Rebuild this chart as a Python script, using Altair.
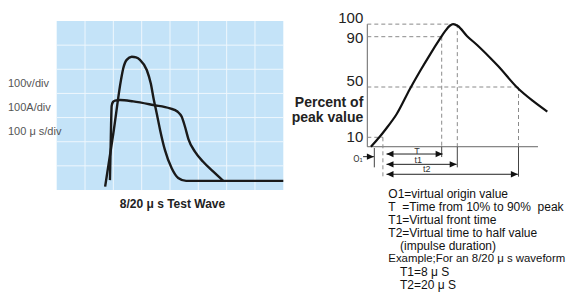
import altair as alt
import pandas as pd

NB = "\u00a0"

# ---------------- left panel: oscilloscope (units = grid divisions) ----------------
grid_cols = [1, 2, 3, 4, 5, 6, 7]
grid_rows = [1, 2, 3, 4, 5, 6]
volt_x = [1.71, 2.00, 2.27, 2.35, 2.47, 2.65, 2.80, 2.94, 3.18, 3.32, 3.43, 3.53, 3.65, 3.82, 4.06, 4.29, 4.57, 8.00]
volt_y = [0.14, 2.35, 4.56, 5.04, 5.39, 5.52, 5.49, 5.39, 4.97, 4.42, 3.73, 3.18, 2.49, 1.66, 0.90, 0.50, 0.38, 0.38]
curr_x = [1.88, 1.92, 1.94, 1.99, 2.06, 2.24, 2.70, 3.41, 4.00, 4.26, 4.41, 4.53, 4.65, 4.88, 5.17, 5.53, 5.88]
curr_y = [0.41, 2.69, 3.48, 3.65, 3.70, 3.73, 3.67, 3.52, 3.38, 3.25, 3.04, 2.62, 2.11, 1.59, 1.17, 0.76, 0.38]
scope_labels = ["100v/div", "100A/div", "100 μ s/div"]
scope_title = "8/20 μ s Test Wave"

# ---------------- right panel: waveform (time units, percent of peak) ----------------
wave_t = [0.6, 2.0, 3.0, 4.9, 7.1, 8.8, 10.5, 12.1, 13.0, 13.8, 14.3, 15.1, 16.6, 18.3, 20.5, 21.8, 25.1, 27.6, 30.0]
wave_p = [2.5, 10.0, 16.0, 28.5, 48.4, 62.7, 76.2, 88.2, 94.6, 98.9, 100, 98.5, 90.6, 83.4, 73.1, 66.7, 49.0, 38.9, 30.4]
base_p = 2.5
axis_end_t = 28.45
levels = [100, 90, 50, 10]
level_t = [15.0, 12.4, 25.2, 2.6]
level_label_p = [105, 89, 55, 10]
dash_bottom = [base_p, base_p, base_p, -21.3]
tick_t = [1.17, 12.4, 15.0, 25.2]
tick_top = [1.5, base_p, base_p, base_p]
tick_bottom = [-13.9, -5.7, -13.9, -21.3]
arrow_start = [-0.7, 3.2, 3.2, 3.2]
arrow_end = [1.1, 12.55, 14.9, 25.1]
arrow_p = [-5.4, -3.3, -11.5, -19.4]
arrow_double = [False, True, True, True]
arrow_names = ["T", "t1", "t2"]
arrow_label_t = [8.3, 8.5, 9.9]
arrow_label_p = [-0.9, -8.1, -15.5]
o1_label = "O₁"
notes = [
    "O1=virtual origin value",
    "T" + NB * 2 + "=Time from 10% to 90%" + NB * 2 + "peak",
    "T1=Virtual front time",
    "T2=Virtual time to half value",
    "(impulse duration)",
    "Example;For an 8/20 μ s waveform",
    "T1=8 μ S",
    "T2=20 μ S",
]
notes_indent = [0, 0, 0, 0, 1, 0, 1, 1]
long_line = 5  # index of the widest note line

FONT = "Liberation Sans"


def LX():
    return alt.Scale(domain=[0, 8], range=[48.7, 275.3])


def LY():
    return alt.Scale(domain=[0, 7], range=[182, 13])


def RX():
    return alt.Scale(domain=[0, 30], range=[359.3, 539.3])


def RY():
    return alt.Scale(domain=[0, 100], range=[141.875, 16.125])


# ---- left layers
bg = alt.Chart(pd.DataFrame({"x0": [0], "x1": [8], "y0": [0], "y1": [7]})).mark_rect(
    color="#c4e3f8"
).encode(
    x=alt.X("x0:Q", scale=LX(), axis=None), x2="x1:Q",
    y=alt.Y("y0:Q", scale=LY(), axis=None), y2="y1:Q",
)
vgrid = alt.Chart(pd.DataFrame({"g": grid_cols, "a": [0] * 7, "b": [7] * 7})).mark_rule(
    color="#eef7fd", strokeWidth=1
).encode(
    x=alt.X("g:Q", scale=LX(), axis=None),
    y=alt.Y("a:Q", scale=LY(), axis=None), y2="b:Q",
)
hgrid = alt.Chart(pd.DataFrame({"g": grid_rows, "a": [0] * 6, "b": [8] * 6})).mark_rule(
    color="#eef7fd", strokeWidth=1
).encode(
    y=alt.Y("g:Q", scale=LY(), axis=None),
    x=alt.X("a:Q", scale=LX(), axis=None), x2="b:Q",
)
volt = alt.Chart(pd.DataFrame({"x": volt_x, "y": volt_y})).mark_line(
    color="#1a1a1a", strokeWidth=2.4, interpolate="monotone"
).encode(
    x=alt.X("x:Q", scale=LX(), axis=None),
    y=alt.Y("y:Q", scale=LY(), axis=None),
)
curr = alt.Chart(pd.DataFrame({"x": curr_x, "y": curr_y})).mark_line(
    color="#1a1a1a", strokeWidth=2.4, interpolate="monotone"
).encode(
    x=alt.X("x:Q", scale=LX(), axis=None),
    y=alt.Y("y:Q", scale=LY(), axis=None),
)
left = alt.layer(bg, vgrid, hgrid, volt, curr)

scope_text = alt.Chart(pd.DataFrame({"t": scope_labels, "i": [0, 1, 2]})).mark_text(
    align="left", baseline="middle", fontSize=11, font=FONT, color="#555555"
).encode(
    x=alt.value(0),
    y=alt.Y("i:Q", scale=alt.Scale(domain=[0, 2], range=[76, 124]), axis=None),
    text="t:N",
)
title_text = alt.Chart(pd.DataFrame({"t": [scope_title]})).mark_text(
    align="center", baseline="middle", fontSize=12, font=FONT, fontWeight="bold", color="#222222"
).encode(x=alt.value(164.5), y=alt.value(196), text="t:N")

# ---- right layers
curve = alt.Chart(pd.DataFrame({"t": wave_t, "p": wave_p})).mark_line(
    color="#111111", strokeWidth=2.2, interpolate="monotone"
).encode(
    x=alt.X("t:Q", scale=RX(), axis=None),
    y=alt.Y("p:Q", scale=RY(), axis=None),
)
axes_df = pd.DataFrame({"x0": [0, 0], "x1": [0, axis_end_t], "y0": [base_p, base_p], "y1": [100, base_p]})
axes = alt.Chart(axes_df).mark_rule(color="#666666", strokeWidth=1).encode(
    x=alt.X("x0:Q", scale=RX(), axis=None), x2="x1:Q",
    y=alt.Y("y0:Q", scale=RY(), axis=None), y2="y1:Q",
)
lev_df = pd.DataFrame({"lvl": levels, "lt": level_t, "zero": [0] * 4, "db": dash_bottom,
                       "lp": level_label_p, "lab": [str(v) for v in levels]})
hdash = alt.Chart(lev_df).mark_rule(color="#8a8a8a", strokeWidth=1, strokeDash=[4, 3]).encode(
    x=alt.X("zero:Q", scale=RX(), axis=None), x2="lt:Q",
    y=alt.Y("lvl:Q", scale=RY(), axis=None),
)
vdash = alt.Chart(lev_df).mark_rule(color="#8a8a8a", strokeWidth=1, strokeDash=[4, 3]).encode(
    x=alt.X("lt:Q", scale=RX(), axis=None),
    y=alt.Y("lvl:Q", scale=RY(), axis=None), y2="db:Q",
)
level_labels = alt.Chart(lev_df).mark_text(
    align="right", baseline="middle", fontSize=15, font=FONT, color="#222222"
).encode(
    x=alt.value(355.3),
    y=alt.Y("lp:Q", scale=RY(), axis=None),
    text="lab:N",
)
ticks = alt.Chart(pd.DataFrame({"t": tick_t, "a": tick_top, "b": tick_bottom})).mark_rule(
    color="#444444", strokeWidth=1
).encode(
    x=alt.X("t:Q", scale=RX(), axis=None),
    y=alt.Y("a:Q", scale=RY(), axis=None), y2="b:Q",
)
arr_df = pd.DataFrame({"s": arrow_start, "e": arrow_end, "p": arrow_p, "d": arrow_double})
arr_lines = alt.Chart(arr_df).mark_rule(color="#222222", strokeWidth=1).encode(
    x=alt.X("s:Q", scale=RX(), axis=None), x2="e:Q",
    y=alt.Y("p:Q", scale=RY(), axis=None),
)
heads_r = alt.Chart(arr_df).mark_point(
    shape="M0,0L-1,-0.45L-1,0.45Z", filled=True, color="#111111", opacity=1, size=196
).encode(
    x=alt.X("e:Q", scale=RX(), axis=None),
    y=alt.Y("p:Q", scale=RY(), axis=None),
)
heads_l = alt.Chart(arr_df[arr_df["d"]]).mark_point(
    shape="M0,0L1,-0.45L1,0.45Z", filled=True, color="#111111", opacity=1, size=196
).encode(
    x=alt.X("s:Q", scale=RX(), axis=None),
    y=alt.Y("p:Q", scale=RY(), axis=None),
)
arr_labels = alt.Chart(pd.DataFrame({"n": arrow_names, "t": arrow_label_t, "p": arrow_label_p})).mark_text(
    align="center", baseline="middle", fontSize=9, font=FONT, color="#333333"
).encode(
    x=alt.X("t:Q", scale=RX(), axis=None),
    y=alt.Y("p:Q", scale=RY(), axis=None),
    text="n:N",
)
right = alt.layer(axes, hdash, vdash, ticks, curve, arr_lines, heads_r, heads_l, arr_labels, level_labels)

o1_text = alt.Chart(pd.DataFrame({"t": [o1_label]})).mark_text(
    align="center", baseline="middle", fontSize=8, font="DejaVu Sans", color="#333333"
).encode(x=alt.value(350), y=alt.value(152), text="t:N")

ylab = alt.Chart(pd.DataFrame({"t": ["Percent of", "peak value"], "i": [0, 1]})).mark_text(
    align="right", baseline="middle", fontSize=14, font=FONT, fontWeight="bold", color="#222222"
).encode(
    x=alt.value(355.3),
    y=alt.Y("i:Q", scale=alt.Scale(domain=[0, 1], range=[95, 110]), axis=None),
    text="t:N",
)

notes_df = pd.DataFrame({"t": notes, "i": list(range(len(notes))), "ind": notes_indent})
notes_enc = dict(
    x=alt.X("ind:Q", scale=alt.Scale(domain=[0, 1], range=[380.3, 392]), axis=None),
    y=alt.Y("i:Q", scale=alt.Scale(domain=[0, 7], range=[186, 277]), axis=None),
    text="t:N",
)
notes_main = alt.Chart(notes_df).transform_filter(alt.datum.i != long_line).mark_text(
    align="left", baseline="middle", fontSize=12, font=FONT, color="#111111"
).encode(**notes_enc)
notes_long = alt.Chart(notes_df).transform_filter(alt.datum.i == long_line).mark_text(
    align="left", baseline="middle", fontSize=11.4, font=FONT, color="#111111"
).encode(**notes_enc)
notes_text = alt.layer(notes_main, notes_long)

chart = alt.layer(left, right, scope_text, title_text, o1_text, ylab, notes_text).resolve_scale(
    x="independent", y="independent"
).properties(
    width=559, height=285, padding=0, autosize=alt.AutoSizeParams(type="none"), background="white"
).configure_view(stroke=None)

chart.save("out.html", embed_options={"renderer": "svg", "actions": False})
